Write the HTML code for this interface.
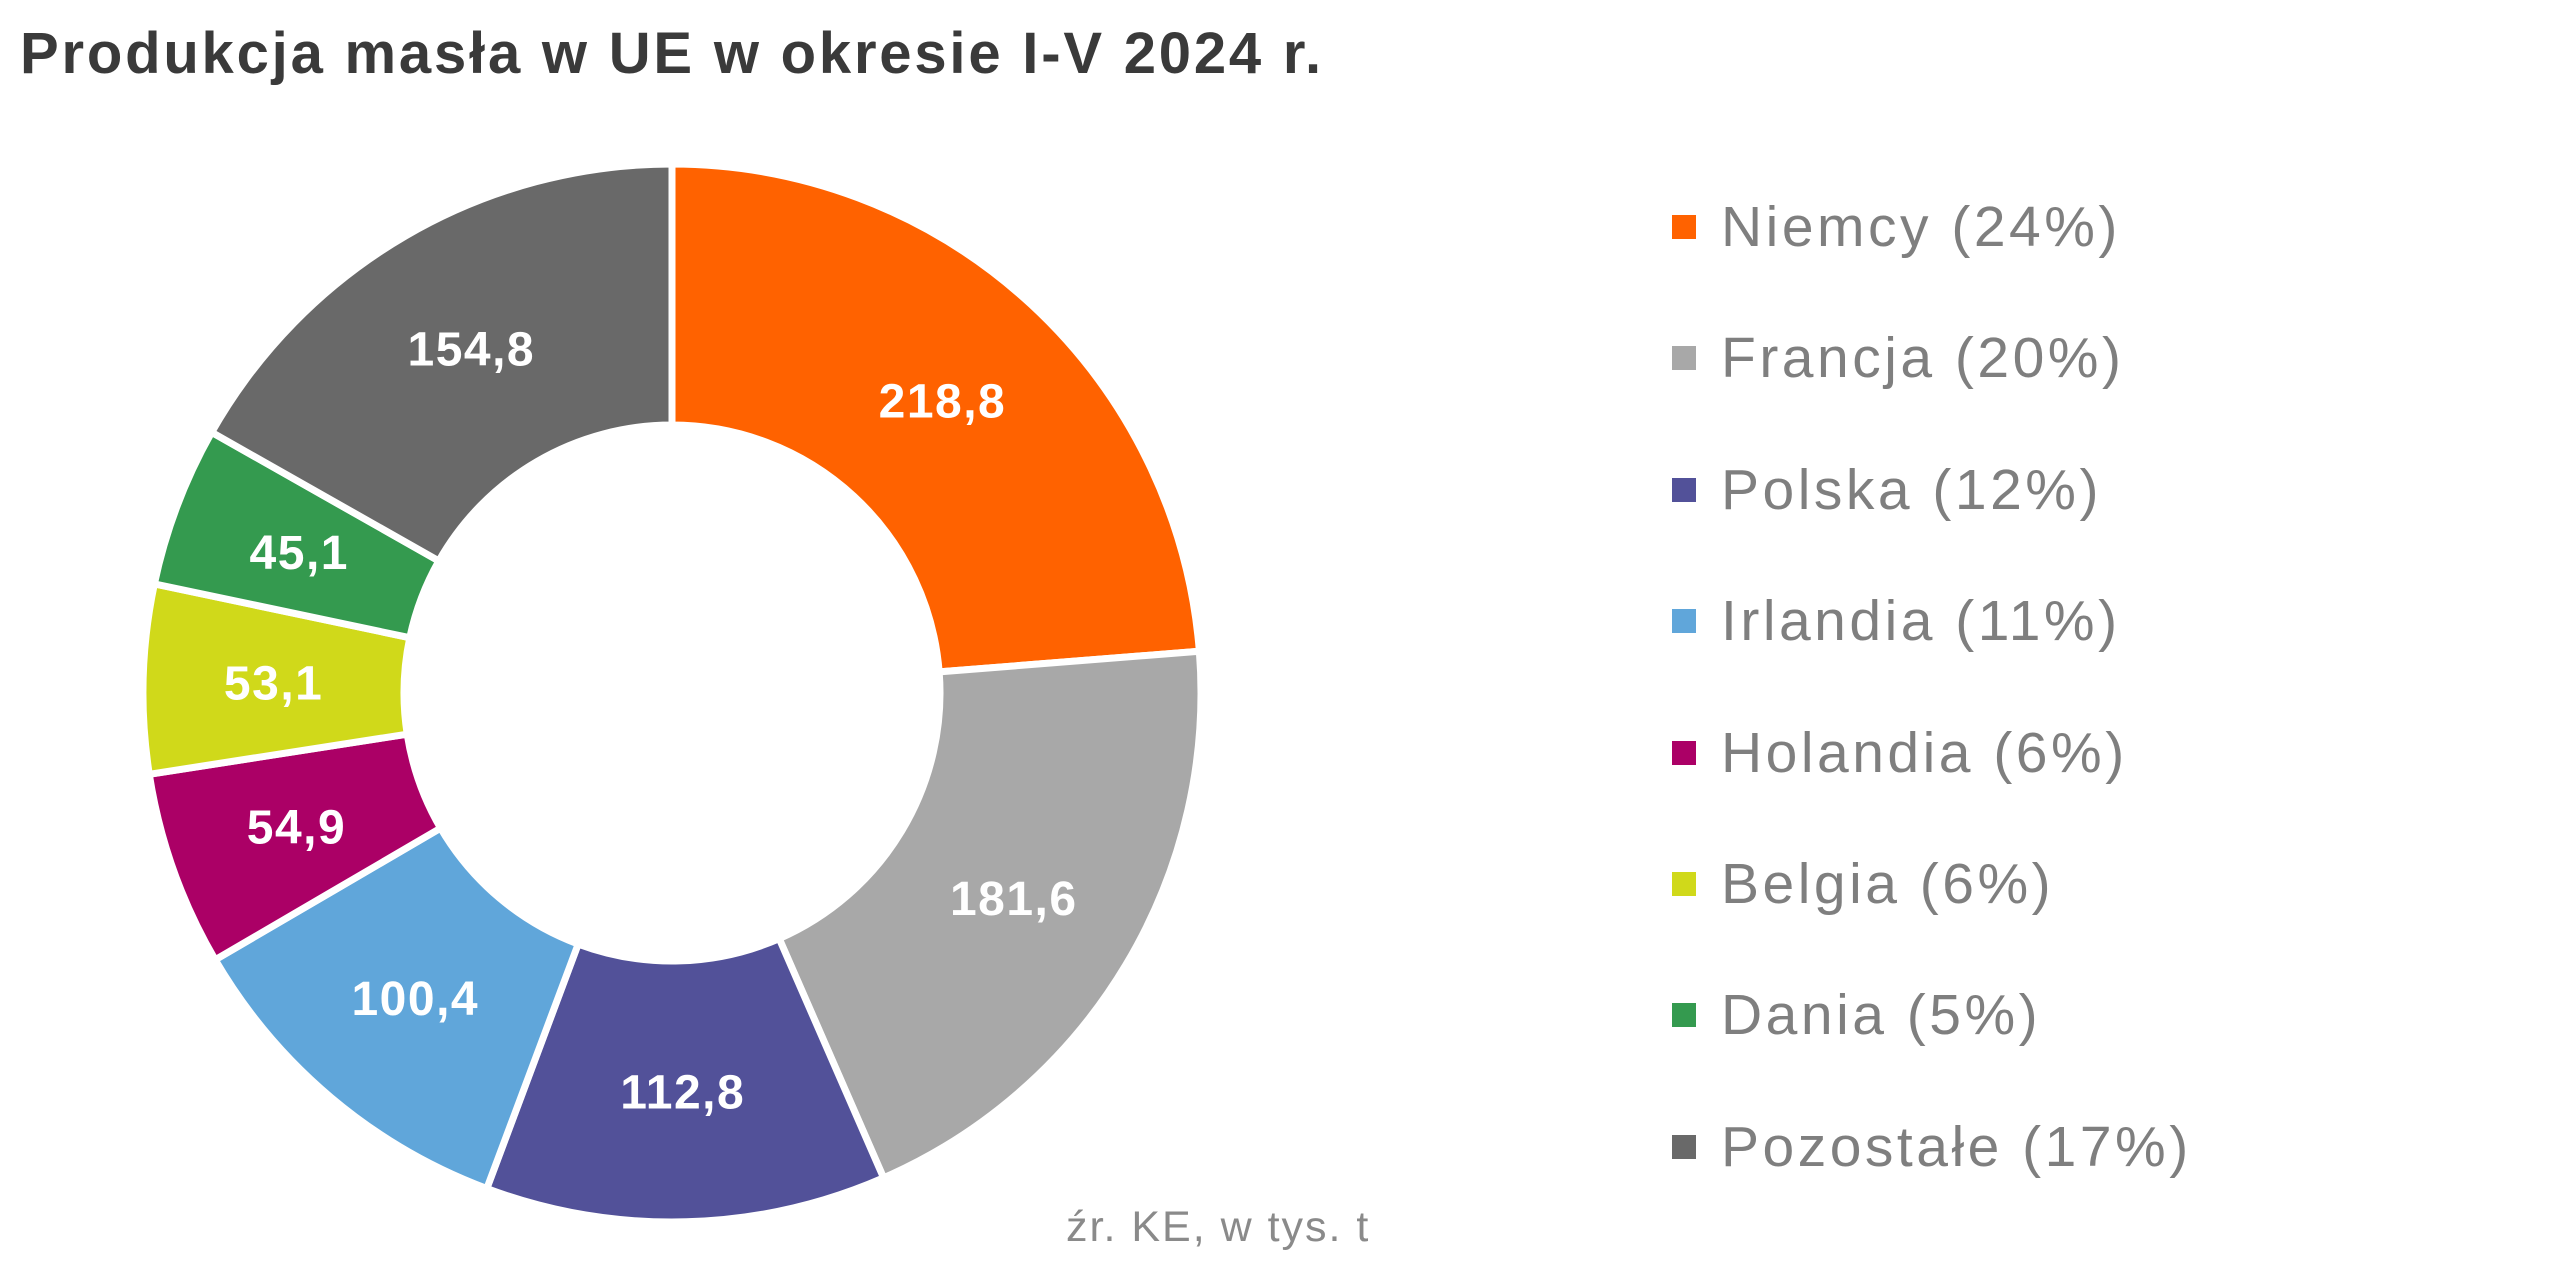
<!DOCTYPE html>
<html><head><meta charset="utf-8"><style>
html,body{margin:0;padding:0;background:#fff;}
body{width:2575px;height:1274px;overflow:hidden;position:relative;font-family:"Liberation Sans",sans-serif;}
.title{position:absolute;left:20px;top:20px;font-size:58px;letter-spacing:2.8px;font-weight:bold;color:#3a3a3a;white-space:nowrap;}
.leg{position:absolute;left:1672px;font-size:57px;letter-spacing:3.5px;color:#7f7f7f;white-space:nowrap;line-height:60px;}
.leg span{display:inline-block;width:24px;height:24px;margin-right:25px;vertical-align:middle;position:relative;top:-4px;}
.src{position:absolute;left:1066px;top:1203px;font-size:43px;letter-spacing:2px;color:#8a8a8a;white-space:nowrap;}
</style></head><body>
<div class="title">Produkcja masła w UE w okresie I-V 2024 r.</div>
<svg id="c" width="2575" height="1274" style="position:absolute;left:0;top:0"></svg>
<div id="legend"></div>
<div class="src">źr. KE, w tys. t</div>
<script>
var d=[[218.8,"#FF6200","Niemcy (24%)"],[181.6,"#A8A8A8","Francja (20%)"],[112.8,"#525199","Polska (12%)"],[100.4,"#60A6DA","Irlandia (11%)"],[54.9,"#AB0066","Holandia (6%)"],[53.1,"#D0D91A","Belgia (6%)"],[45.1,"#349A4F","Dania (5%)"],[154.8,"#696969","Pozostałe (17%)"]];
var tot=0;d.forEach(function(x){tot+=x[0];});
var cx=672,cy=693,R=529,r=268,a=0,s="",lg="";
function p(rad,ang){return [cx+rad*Math.sin(ang),cy-rad*Math.cos(ang)];}
d.forEach(function(x,i){
 var b=a+x[0]/tot*2*Math.PI,lf=(b-a)>Math.PI?1:0;
 var p1=p(R,a),p2=p(R,b),p3=p(r,b),p4=p(r,a);
 s+='<path d="M'+p1+' A'+R+' '+R+' 0 '+lf+' 1 '+p2+' L'+p3+' A'+r+' '+r+' 0 '+lf+' 0 '+p4+'Z" fill="'+x[1]+'" stroke="#fff" stroke-width="7"/>';
 var m=p((R+r)/2,(a+b)/2);
 s+='<text x="'+m[0]+'" y="'+(m[1]+17)+'" text-anchor="middle" font-family="Liberation Sans,sans-serif" font-weight="bold" font-size="48" letter-spacing="1.5" fill="#fff">'+String(x[0]).replace(".",",")+'</text>';
 lg+='<div class="leg" style="top:'+(197+131.4*i)+'px"><span style="background:'+x[1]+'"></span>'+x[2]+'</div>';
 a=b;
});
document.getElementById("c").innerHTML=s;
document.getElementById("legend").innerHTML=lg;
</script>
</body></html>
